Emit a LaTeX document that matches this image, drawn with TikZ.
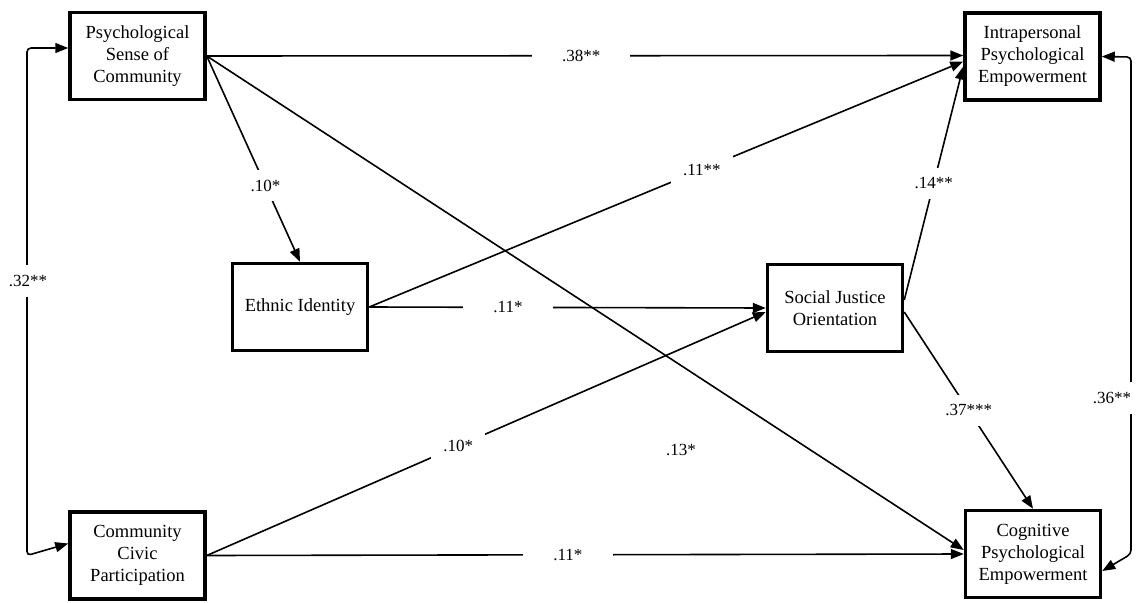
\documentclass[tikz,border=0pt]{standalone}
\usepackage{fontspec}
\setmainfont{Liberation Serif}
\usetikzlibrary{arrows.meta}
\begin{document}
\begin{tikzpicture}[x=1pt,y=-1pt,
  varbox/.style={draw,line width=3.5pt,minimum width=135pt,minimum height=87pt,align=center,inner sep=2pt,font=\fontsize{18.5}{22}\selectfont},
  conn/.style={line width=1.6pt,-{Triangle[length=13pt,width=10pt]}},
  bidir/.style={line width=1.6pt,{Triangle[length=13pt,width=10pt]}-{Triangle[length=13pt,width=10pt]},rounded corners=4pt},
  lbl/.style={fill=white,inner xsep=12pt,inner ysep=10pt,font=\fontsize{17}{20}\selectfont}]
\useasboundingbox (0,0) rectangle (1145,602);
\node[varbox] (psc) at (137.5,56) {Psychological\\Sense of\\Community};
\node[varbox] (ipe) at (1032.5,56.5) {Intrapersonal\\Psychological\\Empowerment};
\node[varbox] (ccp) at (137.5,555.5) {Community\\Civic\\Participation};
\node[varbox] (cpe) at (1033,554) {Cognitive\\Psychological\\Empowerment};
\node[varbox] (ei) at (300,307) {Ethnic Identity};
\node[varbox] (sjo) at (835,308) {Social Justice\\Orientation};
\coordinate (lt) at (27,48);
\coordinate (rt) at (1131,57);
% connectors
\draw[conn] (psc.east) -- node[lbl,minimum width=98pt,pos=0.495]{.38**} ([yshift=1pt]ipe.west);
\draw[conn] (psc.east) -- node[lbl,pos=0.63]{.10*} (ei.north);
\draw[conn] (psc.east) -- ([yshift=4pt]cpe.west);
\node[lbl] (l13) at (681,450) {.13*};
\draw[conn] (ei.east) -- node[lbl,pos=0.56]{.11**} ([yshift=-5pt]ipe.west);
\draw[conn] (ei.east) -- node[lbl,minimum width=90pt,pos=0.35]{.11*} (sjo.west);
\draw[conn] ([yshift=8pt]sjo.east) -- node[lbl,pos=0.5]{.14**} ([yshift=-10pt]ipe.west);
\draw[conn] ([yshift=-4pt]sjo.east) -- node[lbl,pos=0.5]{.37***} (cpe.north);
\draw[conn] (ccp.east) -- node[lbl,pos=0.45]{.10*} ([yshift=-4pt]sjo.west);
\draw[conn] (ccp.east) -- node[lbl,minimum width=90pt,pos=0.477]{.11*} (cpe.west);
\draw[bidir] ([yshift=8pt]psc.west) -- (lt) -- (lt |- ccp.west) -- ([yshift=12pt]ccp.west);
\node[lbl] (l32) at (28,281) {.32**};
\draw[bidir] (ipe.east) -- (rt) -- (rt |- cpe.west) -- ([yshift=-17pt]cpe.west -| cpe.east);
\node[lbl] (l36) at (1112,398) {.36**};
\end{tikzpicture}
\end{document}
